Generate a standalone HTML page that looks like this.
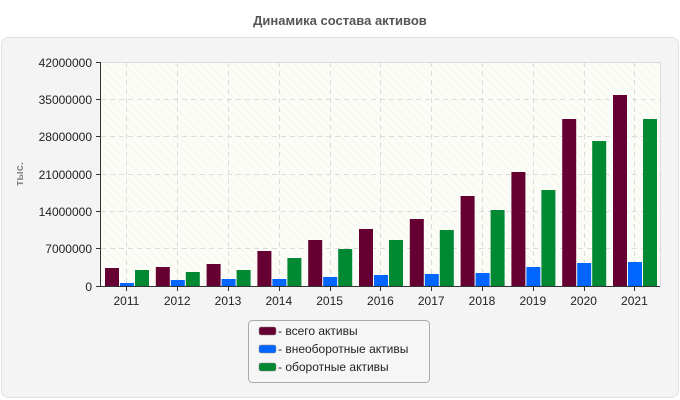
<!DOCTYPE html>
<html><head><meta charset="utf-8"><style>
html,body{margin:0;padding:0;background:#fff;}
svg{display:block;font-family:"Liberation Sans","DejaVu Sans",sans-serif;}
</style></head><body>
<svg width="680" height="400" viewBox="0 0 680 400" xmlns="http://www.w3.org/2000/svg">
<defs>
<pattern id="hatch" width="6" height="6" patternUnits="userSpaceOnUse" patternTransform="rotate(-45)">
<rect width="6" height="6" fill="#fdfdf8"/>
<line x1="0" y1="0" x2="0" y2="6" stroke="#efefea" stroke-width="1"/>
</pattern>
</defs>
<text x="340" y="25" text-anchor="middle" font-size="13" font-weight="bold" fill="#555">Динамика состава активов</text>
<rect x="1.5" y="37.5" width="677" height="360" rx="7" fill="#f4f4f4" stroke="#e2e2e2"/>
<rect x="101" y="62" width="559" height="224" fill="url(#hatch)"/>
<g stroke="#dcdcdc" stroke-dasharray="5,4" stroke-width="1">
<line x1="101" y1="99.5" x2="660" y2="99.5"/>
<line x1="101" y1="136.5" x2="660" y2="136.5"/>
<line x1="101" y1="174.5" x2="660" y2="174.5"/>
<line x1="101" y1="211.5" x2="660" y2="211.5"/>
<line x1="101" y1="248.5" x2="660" y2="248.5"/>
<line x1="126.5" y1="62" x2="126.5" y2="286"/>
<line x1="177.5" y1="62" x2="177.5" y2="286"/>
<line x1="228.5" y1="62" x2="228.5" y2="286"/>
<line x1="279.5" y1="62" x2="279.5" y2="286"/>
<line x1="330.5" y1="62" x2="330.5" y2="286"/>
<line x1="380.5" y1="62" x2="380.5" y2="286"/>
<line x1="431.5" y1="62" x2="431.5" y2="286"/>
<line x1="482.5" y1="62" x2="482.5" y2="286"/>
<line x1="533.5" y1="62" x2="533.5" y2="286"/>
<line x1="584.5" y1="62" x2="584.5" y2="286"/>
<line x1="634.5" y1="62" x2="634.5" y2="286"/>
</g>
<line x1="101" y1="62.5" x2="660" y2="62.5" stroke="#ddd"/>
<line x1="660.5" y1="62" x2="660.5" y2="286" stroke="#ddd"/>
<g>
<rect x="105" y="268" width="14" height="18" fill="#660033"/><rect x="120" y="283" width="14" height="3" fill="#0066ff"/><rect x="135" y="270" width="14" height="16" fill="#008833"/>
<rect x="155.8" y="267" width="14" height="19" fill="#660033"/><rect x="170.8" y="280" width="14" height="6" fill="#0066ff"/><rect x="185.8" y="272" width="14" height="14" fill="#008833"/>
<rect x="206.6" y="264" width="14" height="22" fill="#660033"/><rect x="221.6" y="279" width="14" height="7" fill="#0066ff"/><rect x="236.6" y="270" width="14" height="16" fill="#008833"/>
<rect x="257.4" y="251" width="14" height="35" fill="#660033"/><rect x="272.4" y="279" width="14" height="7" fill="#0066ff"/><rect x="287.4" y="258" width="14" height="28" fill="#008833"/>
<rect x="308.2" y="240" width="14" height="46" fill="#660033"/><rect x="323.2" y="277" width="14" height="9" fill="#0066ff"/><rect x="338.2" y="249" width="14" height="37" fill="#008833"/>
<rect x="359" y="229" width="14" height="57" fill="#660033"/><rect x="374" y="275" width="14" height="11" fill="#0066ff"/><rect x="389" y="240" width="14" height="46" fill="#008833"/>
<rect x="409.8" y="219" width="14" height="67" fill="#660033"/><rect x="424.8" y="274" width="14" height="12" fill="#0066ff"/><rect x="439.8" y="230" width="14" height="56" fill="#008833"/>
<rect x="460.6" y="196" width="14" height="90" fill="#660033"/><rect x="475.6" y="273" width="14" height="13" fill="#0066ff"/><rect x="490.6" y="210" width="14" height="76" fill="#008833"/>
<rect x="511.4" y="172" width="14" height="114" fill="#660033"/><rect x="526.4" y="267" width="14" height="19" fill="#0066ff"/><rect x="541.4" y="190" width="14" height="96" fill="#008833"/>
<rect x="562.2" y="119" width="14" height="167" fill="#660033"/><rect x="577.2" y="263" width="14" height="23" fill="#0066ff"/><rect x="592.2" y="141" width="14" height="145" fill="#008833"/>
<rect x="613" y="95" width="14" height="191" fill="#660033"/><rect x="628" y="262" width="14" height="24" fill="#0066ff"/><rect x="643" y="119" width="14" height="167" fill="#008833"/>
</g>
<g stroke="#333" stroke-width="1">
<line x1="100.5" y1="62" x2="100.5" y2="286"/>
<line x1="100" y1="286.5" x2="660" y2="286.5"/>
<line x1="96" y1="62.5" x2="101" y2="62.5"/>
<line x1="96" y1="99.5" x2="101" y2="99.5"/>
<line x1="96" y1="136.5" x2="101" y2="136.5"/>
<line x1="96" y1="174.5" x2="101" y2="174.5"/>
<line x1="96" y1="211.5" x2="101" y2="211.5"/>
<line x1="96" y1="248.5" x2="101" y2="248.5"/>
<line x1="96" y1="286.5" x2="101" y2="286.5"/>
<line x1="126.5" y1="286" x2="126.5" y2="291"/><line x1="177.5" y1="286" x2="177.5" y2="291"/><line x1="228.5" y1="286" x2="228.5" y2="291"/><line x1="279.5" y1="286" x2="279.5" y2="291"/><line x1="330.5" y1="286" x2="330.5" y2="291"/><line x1="380.5" y1="286" x2="380.5" y2="291"/><line x1="431.5" y1="286" x2="431.5" y2="291"/><line x1="482.5" y1="286" x2="482.5" y2="291"/><line x1="533.5" y1="286" x2="533.5" y2="291"/><line x1="584.5" y1="286" x2="584.5" y2="291"/><line x1="634.5" y1="286" x2="634.5" y2="291"/>
</g>
<g font-size="12" fill="#222" text-anchor="end">
<text x="92" y="67">42000000</text><text x="92" y="104">35000000</text><text x="92" y="141">28000000</text><text x="92" y="179">21000000</text><text x="92" y="216">14000000</text><text x="92" y="253">7000000</text><text x="92" y="291">0</text>
</g>
<g font-size="12" fill="#222" text-anchor="middle">
<text x="126.4" y="305">2011</text><text x="177.2" y="305">2012</text><text x="228" y="305">2013</text><text x="278.8" y="305">2014</text><text x="329.6" y="305">2015</text><text x="380.4" y="305">2016</text><text x="431.2" y="305">2017</text><text x="482" y="305">2018</text><text x="532.8" y="305">2019</text><text x="583.6" y="305">2020</text><text x="634.4" y="305">2021</text>
</g>
<text transform="translate(23,174) rotate(-90)" text-anchor="middle" font-size="11" font-weight="bold" fill="#888">тыс.</text>
<rect x="248.5" y="320.5" width="181" height="62" rx="4" fill="#f6f6f6" stroke="#aaa"/>
<rect x="259" y="327" width="17" height="8" rx="2" fill="#660033" stroke="#888" stroke-width="0.5"/>
<rect x="259" y="345" width="17" height="8" rx="2" fill="#0066ff" stroke="#888" stroke-width="0.5"/>
<rect x="259" y="363" width="17" height="8" rx="2" fill="#008833" stroke="#888" stroke-width="0.5"/>
<g font-size="12" fill="#222">
<text x="278" y="335">- всего активы</text>
<text x="278" y="353">- внеоборотные активы</text>
<text x="278" y="371">- оборотные активы</text>
</g>
</svg>
</body></html>
